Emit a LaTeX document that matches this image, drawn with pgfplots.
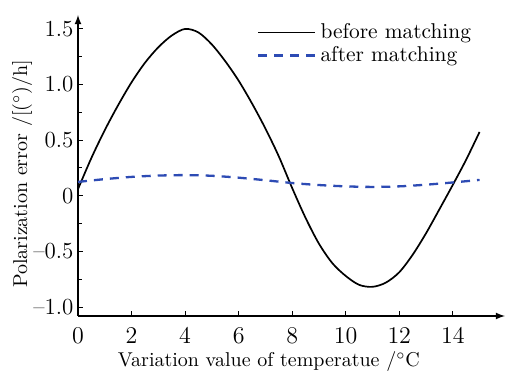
\documentclass[border=0pt]{standalone}
\usepackage{pgfplots}
\pgfplotsset{compat=1.18}
\definecolor{dblue}{RGB}{45,75,180}
\begin{document}
\begin{tikzpicture}
\begin{axis}[
  scale only axis,
  width=213.5pt, height=150.5pt,
  xmin=0, xmax=15.95,
  ymin=-1.08, ymax=1.625,
  axis lines=left,
  axis line style={line width=0.6pt, -latex},
  tick align=inside,
  major tick length=2.5pt,
  minor tick length=2pt,
  tick style={black, line width=0.5pt},
  tick label style={font=\fontsize{11.5}{13}\selectfont},
  xticklabel style={yshift=-2.5pt},
  yticklabel style={xshift=1.2pt},
  xtick={0,2,4,6,8,10,12,14},
  ytick={-1,-0.5,0,0.5,1,1.5},
  yticklabels={{\textendash1.0},{\textendash0.5},0,0.5,1.0,1.5},
  minor ytick={-0.75,-0.25,0.25,0.75,1.25},
  xlabel={Variation value of temperatue /${}^{\circ}$C},
  ylabel={Polarization error /[($^{\circ}$)/h]},
  label style={font=\fontsize{10}{12}\selectfont},
  xlabel style={at={(axis description cs:0.447,-0.169)}, anchor=base},
  ylabel style={at={(axis description cs:-0.131,0.472)}, anchor=center},
  legend style={at={(0.405,1.0)}, anchor=north west, draw=none, fill=none,
    font=\fontsize{10.7}{12}\selectfont, row sep=-1.5pt},
  legend cell align=left,
  legend image code/.code={\draw[#1] (0cm,0cm) -- (1cm,0cm);},
  clip=false,
]
\addplot[black, line width=0.85pt, smooth] coordinates {
(0,0.06) (0.5,0.34) (1.0,0.59) (1.5,0.815) (2.0,1.02) (2.5,1.195) (3.0,1.335)
(3.5,1.44) (4.0,1.5) (4.5,1.468) (5.0,1.36) (5.5,1.21) (6.0,1.035) (6.5,0.83)
(7.0,0.605) (7.5,0.355) (8.0,0.07) (8.5,-0.198) (9.0,-0.43) (9.5,-0.605)
(10.0,-0.72) (10.5,-0.80) (11.0,-0.818) (11.5,-0.78) (12.0,-0.687) (12.5,-0.53)
(13.0,-0.337) (13.5,-0.121) (14.0,0.098) (14.5,0.325) (15.0,0.574)
};
\addlegendentry{before matching}
\addplot[dblue, line width=1.15pt, dash pattern=on 4.5pt off 3.5pt, smooth] coordinates {
(0,0.125) (1,0.15) (2,0.17) (3,0.182) (4,0.186) (5,0.18) (6,0.163) (7,0.14)
(8,0.115) (9,0.097) (10,0.085) (11,0.08) (12,0.085) (13,0.1) (14,0.12) (15,0.143)
};
\addlegendentry{after matching}
\coordinate (tr) at (rel axis cs:1,1);
\coordinate (bl) at (rel axis cs:0,0);
\end{axis}
\pgfresetboundingbox
\path ([shift={(-39pt,-29.5pt)}]bl) rectangle ([shift={(5.5pt,7.5pt)}]tr);
\end{tikzpicture}
\end{document}
